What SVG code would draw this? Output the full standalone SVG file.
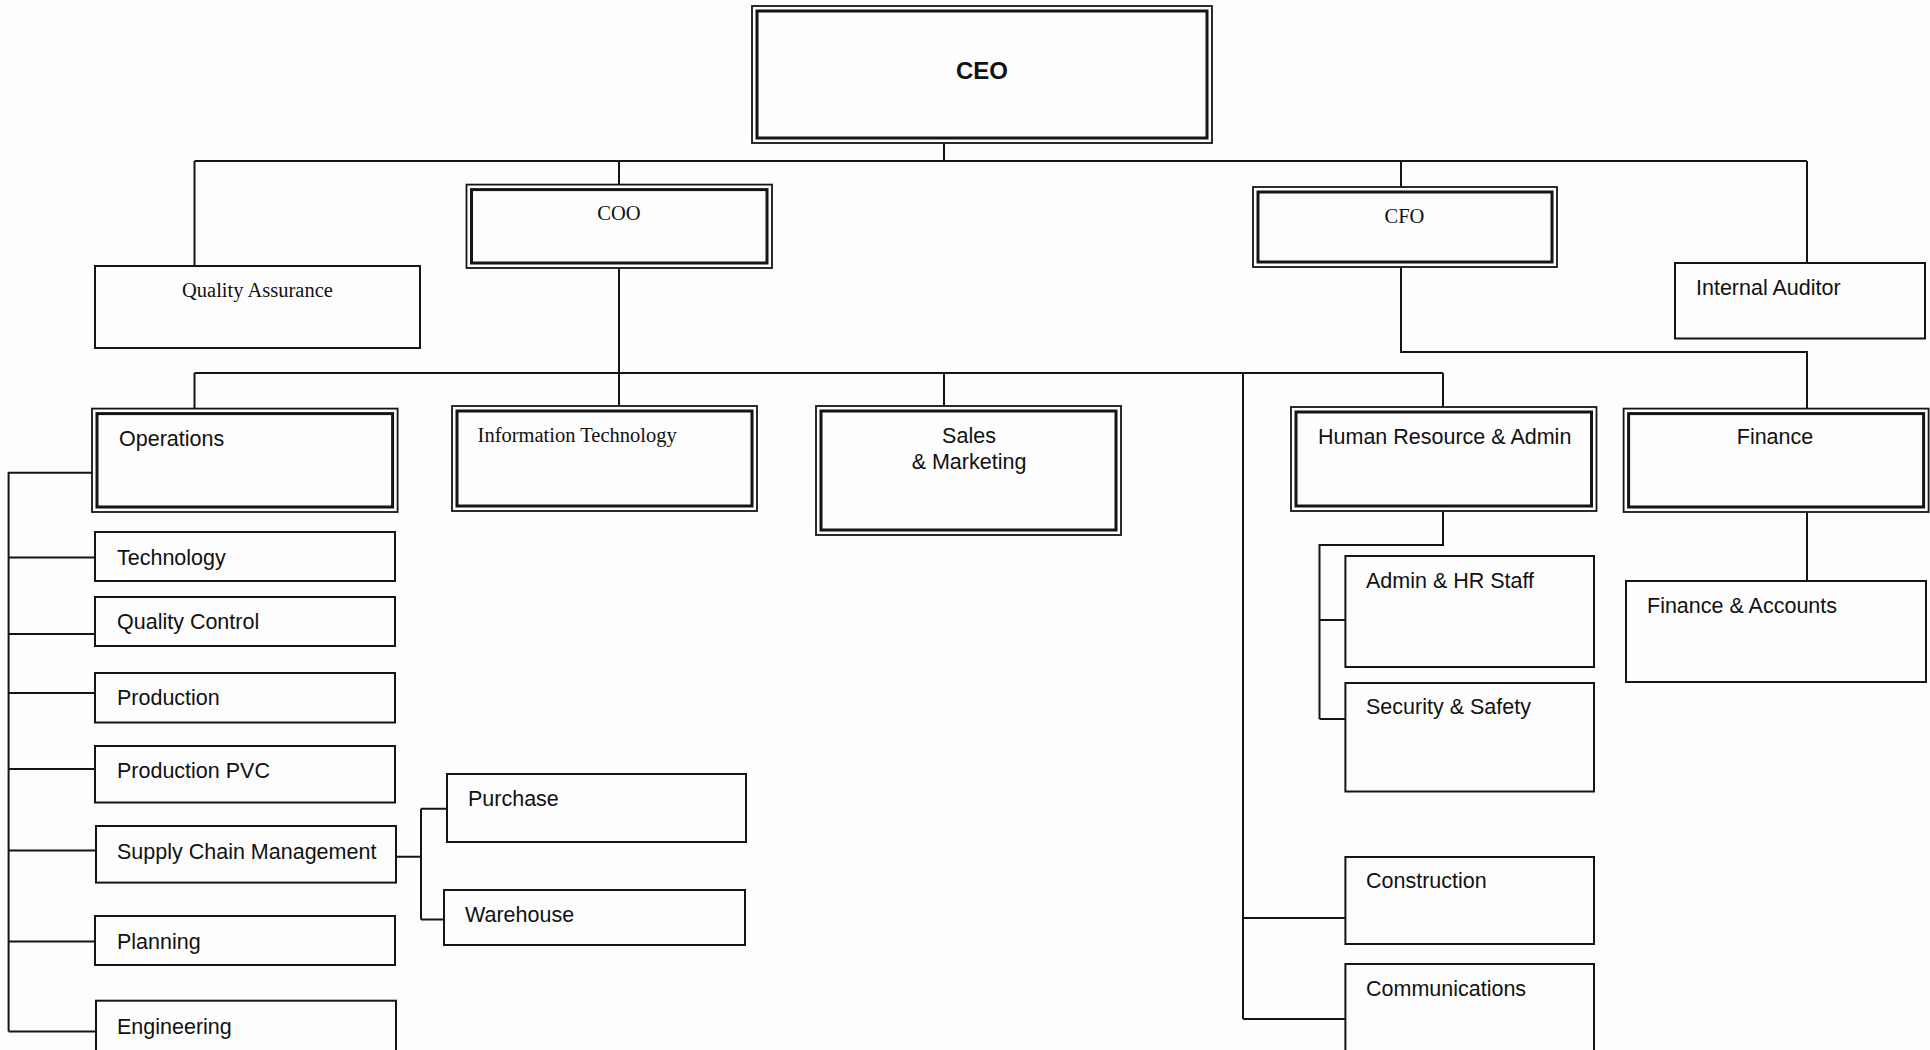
<svg xmlns="http://www.w3.org/2000/svg" width="1930" height="1050" viewBox="0 0 1930 1050">
<style>
.bg{fill:#fdfdfd}
.box{fill:none;stroke:#151515;stroke-width:2}
.outer{fill:none;stroke:#151515;stroke-width:1.8}
.inner{fill:none;stroke:#151515;stroke-width:3}
.ln{fill:none;stroke:#151515;stroke-width:2}
.s{font-family:"Liberation Sans",Arial,sans-serif;font-size:21.5px;fill:#111}
.t{font-family:"Liberation Serif","Times New Roman",serif;font-size:20.5px;fill:#111}
.b{font-family:"Liberation Sans",Arial,sans-serif;font-size:24px;font-weight:bold;fill:#111}
</style>
<rect class="bg" x="0" y="0" width="1930" height="1050"/>
<g id="connectors">
<path class="ln" d="M944 143V161M194.5 161H1807M194.5 161V266M619 161V185M1401 161V187M1807 161V263"/>
<path class="ln" d="M619 268V373M194.5 373H1443M194.5 373V408.6M619 373V406M944 373V406M1443 373V407M1243 373V1019"/>
<path class="ln" d="M1401 267V352H1807V408.6"/>
<path class="ln" d="M92 472.7H8.6V1031.5M8.6 557.6H95M8.6 634H95M8.6 693H95M8.6 769H95M8.6 850.6H95M8.6 941.6H95M8.6 1031.5H96"/>
<path class="ln" d="M396 856.7H421M421 808.7V919.5M421 808.7H447M421 919.5H444"/>
<path class="ln" d="M1443 511V545H1319.5V719M1319.5 620H1345.4M1319.5 719H1345.4"/>
<path class="ln" d="M1243 918H1345.4M1243 1019H1345.4"/>
<path class="ln" d="M1807 512V581"/>
</g>
<g id="ceo">
<rect class="outer" x="752" y="6" width="460" height="137"/>
<rect class="inner" x="757" y="11" width="450" height="127"/>
<text class="b" x="982" y="79" text-anchor="middle">CEO</text>
</g>
<g id="coo">
<rect class="outer" x="466.5" y="184.6" width="305.5" height="83.4"/>
<rect class="inner" x="471.5" y="189.6" width="295.5" height="73.4"/>
<text class="t" x="619" y="220" text-anchor="middle">COO</text>
</g>
<g id="cfo">
<rect class="outer" x="1253" y="187" width="304" height="80"/>
<rect class="inner" x="1258" y="192" width="294" height="70"/>
<text class="t" x="1404.5" y="223" text-anchor="middle">CFO</text>
</g>
<g id="quality-assurance">
<rect class="box" x="95" y="266" width="325" height="82"/>
<text class="t" x="182" y="297">Quality Assurance</text>
</g>
<g id="internal-auditor">
<rect class="box" x="1675" y="263" width="250" height="75.5"/>
<text class="s" x="1696" y="295">Internal Auditor</text>
</g>
<g id="operations">
<rect class="outer" x="92" y="408.6" width="305.6" height="103.4"/>
<rect class="inner" x="97" y="413.6" width="295.6" height="93.4"/>
<text class="s" x="119" y="445.6">Operations</text>
</g>
<g id="information-technology">
<rect class="outer" x="452" y="406" width="305" height="105"/>
<rect class="inner" x="457" y="411" width="295" height="95"/>
<text class="t" x="477.6" y="442">Information Technology</text>
</g>
<g id="sales-marketing">
<rect class="outer" x="816" y="406" width="305" height="129"/>
<rect class="inner" x="821" y="411" width="295" height="119"/>
<text class="s" x="969" y="443" text-anchor="middle">Sales</text>
<text class="s" x="969" y="469" text-anchor="middle">&amp; Marketing</text>
</g>
<g id="hr-admin">
<rect class="outer" x="1291" y="407" width="305.5" height="104"/>
<rect class="inner" x="1296" y="412" width="295.5" height="94"/>
<text class="s" x="1318" y="444">Human Resource &amp; Admin</text>
</g>
<g id="finance">
<rect class="outer" x="1623.6" y="408.6" width="305" height="103.4"/>
<rect class="inner" x="1628.6" y="413.6" width="295" height="93.4"/>
<text class="s" x="1775" y="444" text-anchor="middle">Finance</text>
</g>
<g id="technology">
<rect class="box" x="95" y="532" width="300" height="49"/>
<text class="s" x="117" y="565">Technology</text>
</g>
<g id="quality-control">
<rect class="box" x="95" y="597" width="300" height="49"/>
<text class="s" x="117" y="629">Quality Control</text>
</g>
<g id="production">
<rect class="box" x="95" y="673" width="300" height="49.5"/>
<text class="s" x="117" y="705">Production</text>
</g>
<g id="production-pvc">
<rect class="box" x="95" y="746" width="300" height="56.5"/>
<text class="s" x="117" y="778">Production PVC</text>
</g>
<g id="supply-chain-management">
<rect class="box" x="96" y="826" width="300" height="56.6"/>
<text class="s" x="117" y="859">Supply Chain Management</text>
</g>
<g id="planning">
<rect class="box" x="95" y="916" width="300" height="49"/>
<text class="s" x="117" y="949">Planning</text>
</g>
<g id="engineering">
<rect class="box" x="96" y="1000.7" width="300" height="60"/>
<text class="s" x="117" y="1034">Engineering</text>
</g>
<g id="purchase">
<rect class="box" x="447" y="774" width="299" height="68"/>
<text class="s" x="468" y="806">Purchase</text>
</g>
<g id="warehouse">
<rect class="box" x="444" y="890" width="301" height="55"/>
<text class="s" x="465" y="922">Warehouse</text>
</g>
<g id="admin-hr-staff">
<rect class="box" x="1345.4" y="556" width="248.6" height="111"/>
<text class="s" x="1366" y="588">Admin &amp; HR Staff</text>
</g>
<g id="security-safety">
<rect class="box" x="1345.4" y="683" width="248.6" height="108.5"/>
<text class="s" x="1366" y="714">Security &amp; Safety</text>
</g>
<g id="construction">
<rect class="box" x="1345.4" y="857" width="248.6" height="87"/>
<text class="s" x="1366" y="887.5">Construction</text>
</g>
<g id="communications">
<rect class="box" x="1345.4" y="964" width="248.6" height="100"/>
<text class="s" x="1366" y="996">Communications</text>
</g>
<g id="finance-accounts">
<rect class="box" x="1626" y="581" width="300" height="101"/>
<text class="s" x="1647" y="613">Finance &amp; Accounts</text>
</g>
</svg>
